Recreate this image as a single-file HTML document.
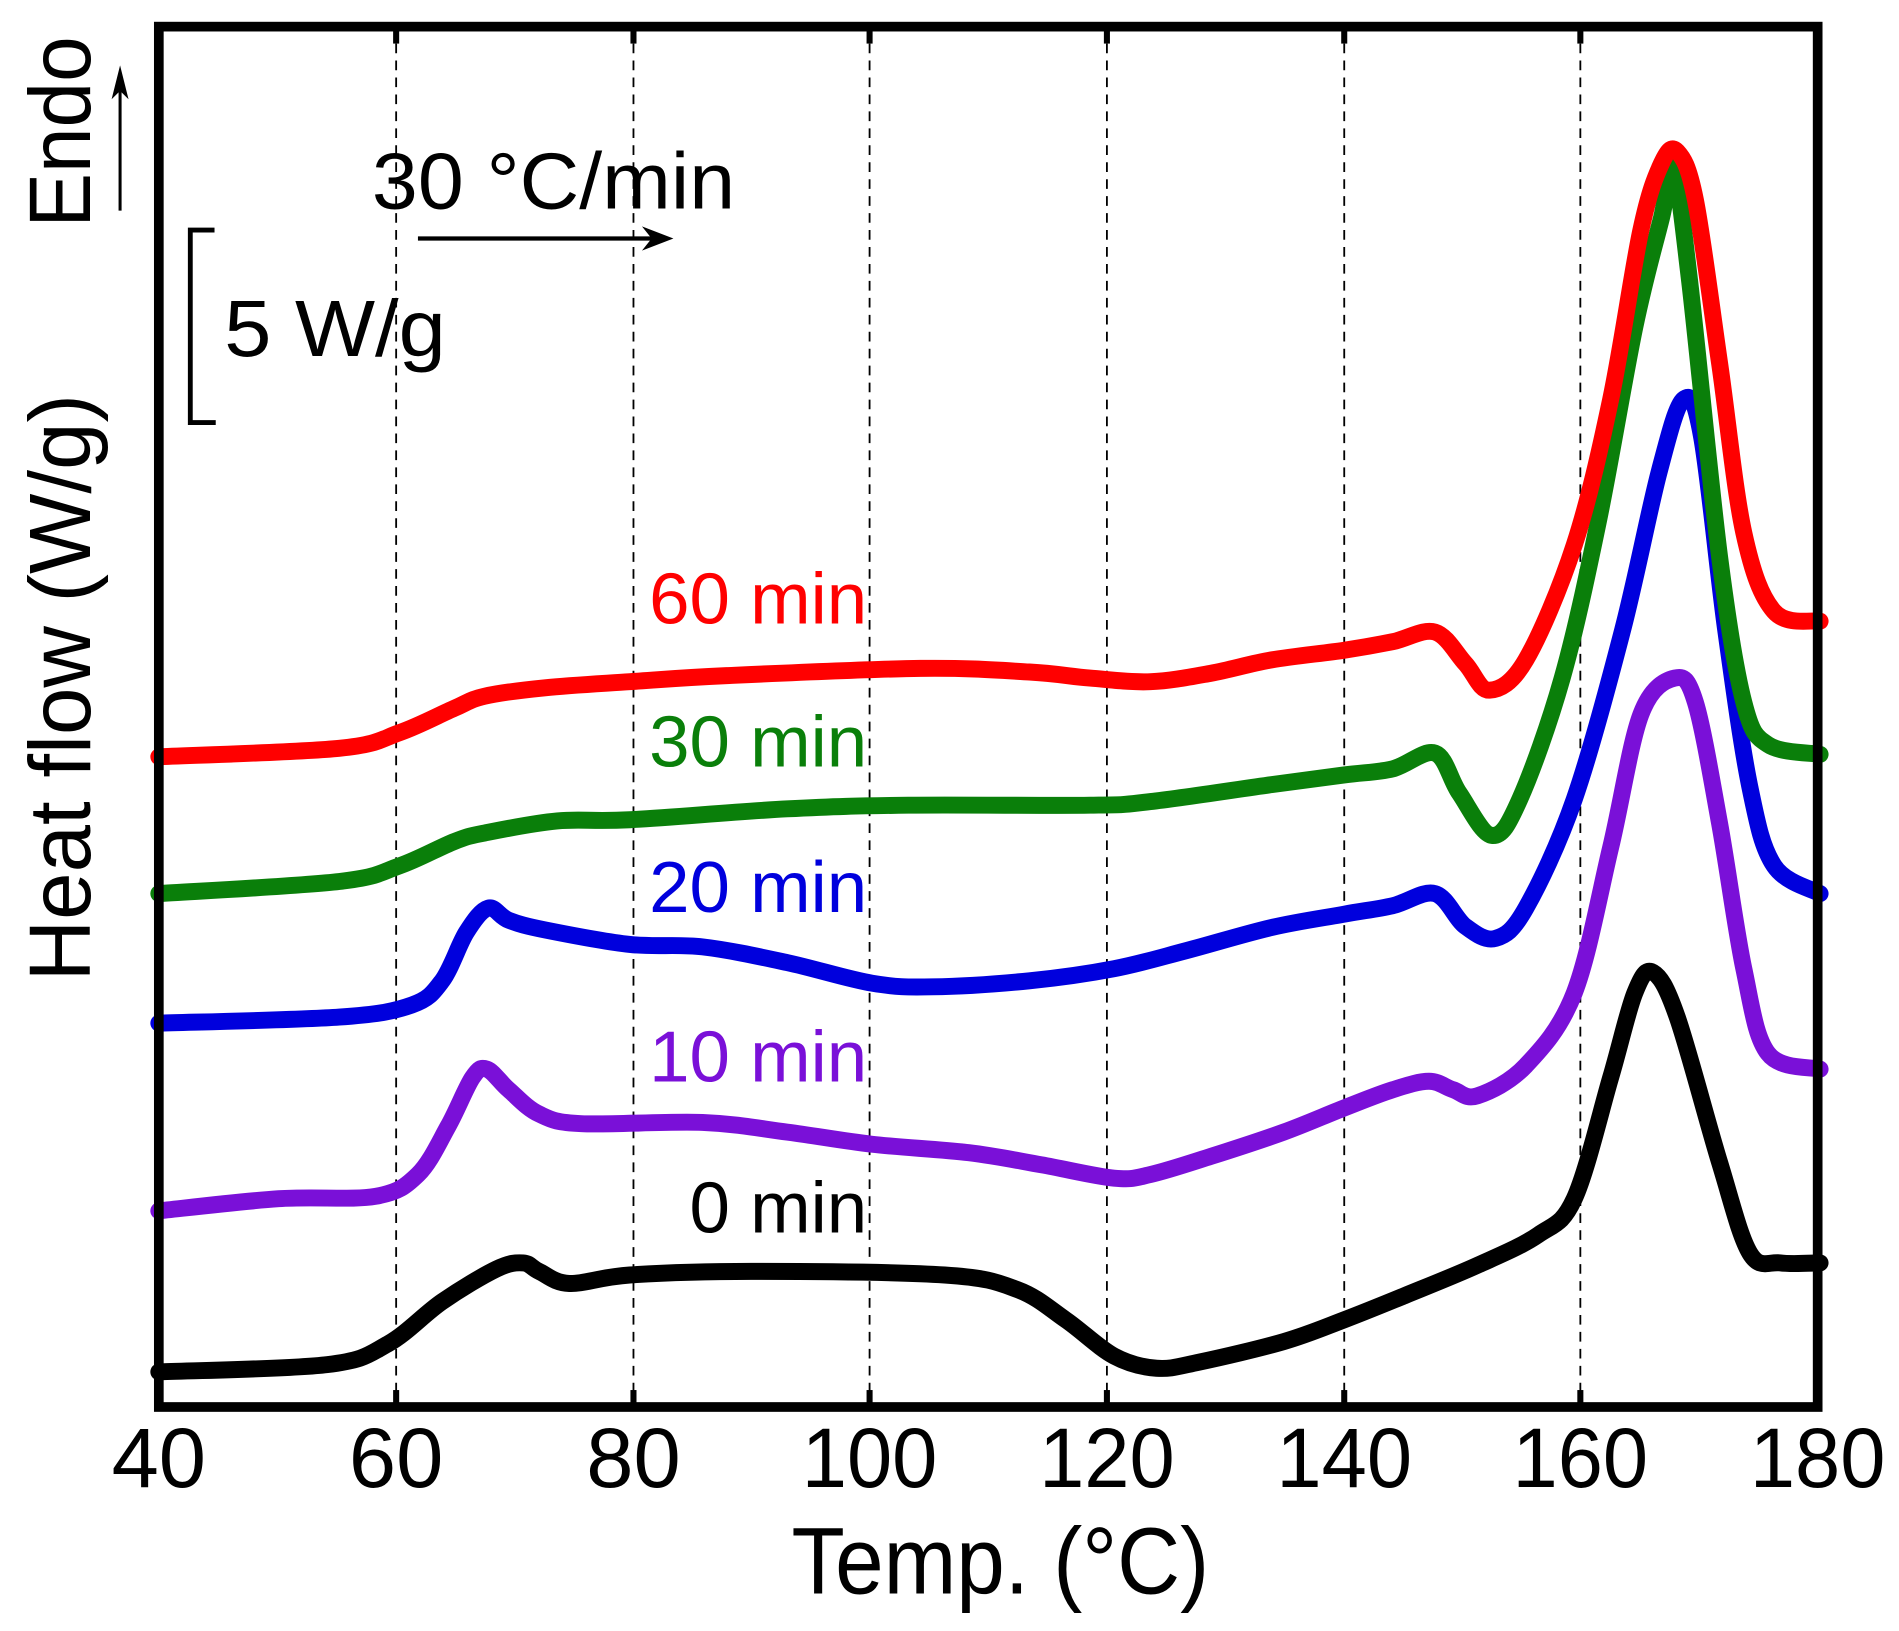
<!DOCTYPE html>
<html><head><meta charset="utf-8"><style>html,body{margin:0;padding:0;background:#fff}svg{display:block}</style></head>
<body>
<svg id="s" width="1899" height="1631" viewBox="0 0 1568 1347" xmlns="http://www.w3.org/2000/svg" font-family="Liberation Sans, Arial, sans-serif">
<rect width="1568" height="1347" fill="#fff"/>
<g stroke="#000" stroke-width="1.5" stroke-dasharray="8,6">
<line x1="327" y1="22" x2="327" y2="1162"/><line x1="523" y1="22" x2="523" y2="1162"/><line x1="718" y1="22" x2="718" y2="1162"/><line x1="914" y1="22" x2="914" y2="1162"/><line x1="1110" y1="22" x2="1110" y2="1162"/><line x1="1305" y1="22" x2="1305" y2="1162"/>
</g>
<g stroke="#000" stroke-width="5">
<line x1="327" y1="1162" x2="327" y2="1148"/><line x1="523" y1="1162" x2="523" y2="1148"/><line x1="718" y1="1162" x2="718" y2="1148"/><line x1="914" y1="1162" x2="914" y2="1148"/><line x1="1110" y1="1162" x2="1110" y2="1148"/><line x1="1305" y1="1162" x2="1305" y2="1148"/>
<line x1="327" y1="22" x2="327" y2="36"/><line x1="523" y1="22" x2="523" y2="36"/><line x1="718" y1="22" x2="718" y2="36"/><line x1="914" y1="22" x2="914" y2="36"/><line x1="1110" y1="22" x2="1110" y2="36"/><line x1="1305" y1="22" x2="1305" y2="36"/>
</g>
<g id="curves" fill="none" stroke-width="14" stroke-linejoin="round" stroke-linecap="round">
<polyline stroke="#000" points="131,1133 270,1127 320,1110 365,1075 410,1048 432,1043 445,1050 470,1060 520,1053 620,1050 780,1053 840,1065 880,1090 920,1120 955,1130 990,1125 1060,1108 1110,1090 1160,1070 1220,1045 1270,1020 1300,990 1330,890 1350,820 1365,803 1385,840 1420,960 1445,1035 1470,1043 1503,1043"/>
<polyline stroke="#7a10d8" points="131,1000 230,990 310,988 345,970 370,930 390,890 402,883 420,900 445,920 480,928 580,927 650,935 720,945 800,952 860,962 920,973 950,970 1000,955 1060,935 1110,915 1150,900 1180,893 1200,900 1220,905 1260,880 1300,820 1330,700 1355,590 1383,560 1400,580 1420,680 1440,800 1460,870 1503,883"/>
<polyline stroke="#0000dd" points="131,845 280,840 340,830 365,810 385,770 403,750 420,760 450,768 520,780 580,782 650,795 720,812 770,815 850,810 920,800 980,785 1050,766 1110,755 1150,748 1185,738 1210,765 1235,775 1260,750 1300,660 1340,520 1370,390 1390,330 1405,360 1425,520 1445,650 1465,715 1503,738"/>
<polyline stroke="#0a7f0a" points="131,738 280,728 330,715 375,695 400,688 460,678 520,677 650,668 750,665 900,665 950,662 1050,648 1110,640 1150,635 1185,622 1205,655 1232,690 1255,660 1290,560 1320,430 1350,270 1372,180 1382,140 1395,230 1420,460 1440,580 1460,615 1503,623"/>
<polyline stroke="#ff0000" points="131,625 280,618 330,605 375,585 400,575 450,568 520,563 600,558 760,552 850,555 900,560 950,563 1000,556 1050,545 1110,537 1150,530 1185,522 1210,548 1230,570 1260,545 1300,450 1330,330 1355,190 1372,135 1385,125 1400,165 1420,300 1440,440 1465,505 1503,513"/>
</g>
<rect x="131" y="22" width="1370" height="1140" fill="none" stroke="#000" stroke-width="8"/>
<g font-size="70" text-anchor="middle" fill="#000">
<text x="131" y="1228" textLength="78" lengthAdjust="spacingAndGlyphs">40</text>
<text x="327" y="1228" textLength="78" lengthAdjust="spacingAndGlyphs">60</text>
<text x="523" y="1228" textLength="78" lengthAdjust="spacingAndGlyphs">80</text>
<text x="718" y="1228" textLength="112" lengthAdjust="spacingAndGlyphs">100</text>
<text x="914" y="1228" textLength="112" lengthAdjust="spacingAndGlyphs">120</text>
<text x="1110" y="1228" textLength="112" lengthAdjust="spacingAndGlyphs">140</text>
<text x="1305" y="1228" textLength="112" lengthAdjust="spacingAndGlyphs">160</text>
<text x="1501" y="1228" textLength="112" lengthAdjust="spacingAndGlyphs">180</text>
</g>
<text x="826" y="1316" font-size="78" text-anchor="middle" textLength="345" lengthAdjust="spacingAndGlyphs">Temp. (°C)</text>
<text transform="translate(74,568) rotate(-90)" font-size="72" text-anchor="middle" textLength="485" lengthAdjust="spacingAndGlyphs">Heat flow (W/g)</text>
<text transform="translate(74,109) rotate(-90)" font-size="72" text-anchor="middle" textLength="158" lengthAdjust="spacingAndGlyphs">Endo</text>
<line x1="99" y1="174" x2="99" y2="70" stroke="#000" stroke-width="2.5"/>
<polygon points="99,54 92,82 99,75 106,82" fill="#000"/>
<text x="307" y="172" font-size="66" textLength="300" lengthAdjust="spacingAndGlyphs">30 °C/min</text>
<line x1="345" y1="197" x2="545" y2="197" stroke="#000" stroke-width="3.5"/>
<polygon points="556,197 530,187 538,197 530,207" fill="#000"/>
<polyline points="177,190 157,190 157,349 178,349" fill="none" stroke="#000" stroke-width="4"/>
<text x="185" y="294" font-size="66" textLength="183" lengthAdjust="spacingAndGlyphs">5 W/g</text>
<g font-size="60" text-anchor="end">
<text x="716" y="515" fill="#ff0000">60 min</text>
<text x="716" y="633" fill="#0a7f0a">30 min</text>
<text x="716" y="753" fill="#0000dd">20 min</text>
<text x="716" y="893" fill="#7a10d8">10 min</text>
<text x="716" y="1018" fill="#000">0 min</text>
</g>
</svg>
<script>
document.querySelectorAll('#curves polyline').forEach(function(pl){
  var p=pl.getAttribute('points').trim().split(/\s+/).map(function(s){return s.split(',').map(Number);});
  var d='M'+p[0][0]+','+p[0][1];
  for(var i=0;i<p.length-1;i++){
    var p0=p[i-1]||p[i],p1=p[i],p2=p[i+1],p3=p[i+2]||p2;
    var c1x=p1[0]+(p2[0]-p0[0])/6,c1y=p1[1]+(p2[1]-p0[1])/6;
    var c2x=p2[0]-(p3[0]-p1[0])/6,c2y=p2[1]-(p3[1]-p1[1])/6;
    d+=' C'+c1x+','+c1y+' '+c2x+','+c2y+' '+p2[0]+','+p2[1];
  }
  var path=document.createElementNS('http://www.w3.org/2000/svg','path');
  path.setAttribute('d',d);path.setAttribute('stroke',pl.getAttribute('stroke'));
  pl.parentNode.replaceChild(path,pl);
});
</script>
</body></html>
